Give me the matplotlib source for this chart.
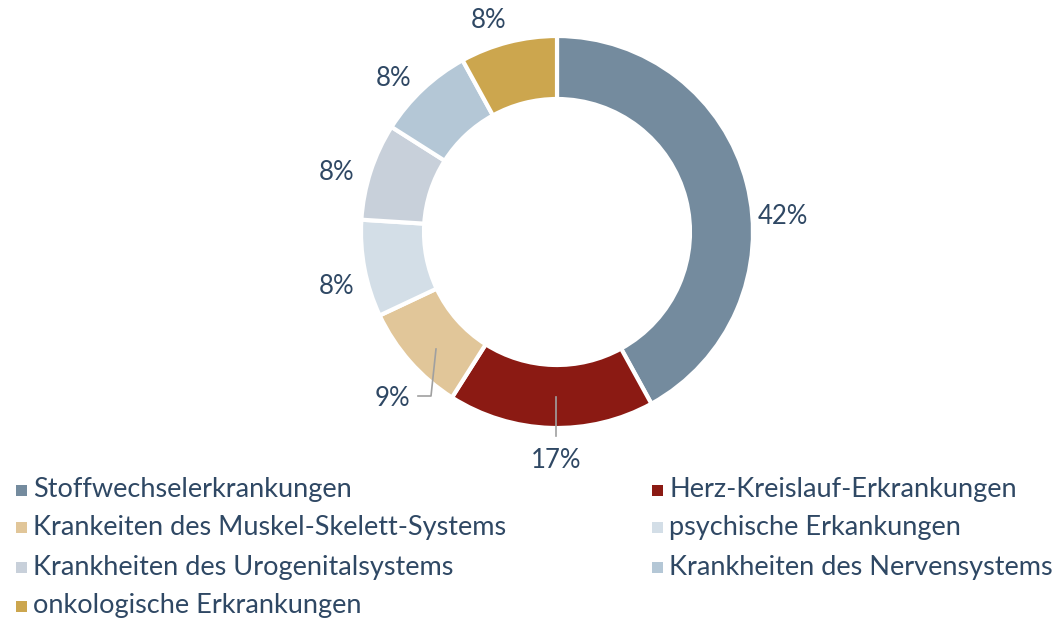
import matplotlib.pyplot as plt
from matplotlib.patches import Rectangle

# data
categories = [
    "Stoffwechselerkrankungen",
    "Herz-Kreislauf-Erkrankungen",
    "Krankeiten des Muskel-Skelett-Systems",
    "psychische Erkankungen",
    "Krankheiten des Urogenitalsystems",
    "Krankheiten des Nervensystems",
    "onkologische Erkrankungen",
]
shares = [42, 17, 9, 8, 8, 8, 8]
colors = ["#748B9E", "#8B1A13", "#E1C699", "#D3DEE7", "#C8D0DA", "#B4C7D6", "#CCA64E"]

TXT = "#2F4864"
FONT = "Lato"

W, H = 1058, 621
fig = plt.figure(figsize=(W / 100, H / 100), dpi=100)
ax = fig.add_axes([0, 0, 1, 1])

cx, cy, R = 557, H - 232, 196
ax.pie(shares, colors=colors, startangle=90, counterclock=False,
       center=(cx, cy), radius=R, frame=True,
       wedgeprops=dict(width=63, edgecolor="white", linewidth=3))
ax.set_xlim(0, W)
ax.set_ylim(0, H)
ax.axis("off")

# label placement (pixel coords, top-left origin)
label_pos = [(783, 217), (556, 460), (392, 398), (337, 287), (337, 172), (394, 79), (489, 20)]
for v, (x, y) in zip(shares, label_pos):
    ax.text(x, H - y, f"{v}%", ha="center", va="center", fontsize=18.5,
            color=TXT, family=FONT)

# leader lines
ax.plot([556, 556], [H - 397, H - 436], color="#A0A0A0", lw=1.2)
ax.plot([436, 431, 418], [H - 349, H - 396, H - 396], color="#A0A0A0", lw=1.2)

# legend, row-major in two columns
col_x = [16, 652]
row_y = [490, 527, 567, 606]
sq = 11
for i, (name, c) in enumerate(zip(categories, colors)):
    row, col = divmod(i, 2)
    x, y = col_x[col], row_y[row]
    ax.add_patch(Rectangle((x, H - y - sq / 2), sq, sq, facecolor=c, edgecolor="none"))
    ax.text(x + 17, H - y, name, ha="left", va="center", fontsize=19.5,
            color=TXT, family=FONT)

fig.savefig("out.png", dpi=100)
